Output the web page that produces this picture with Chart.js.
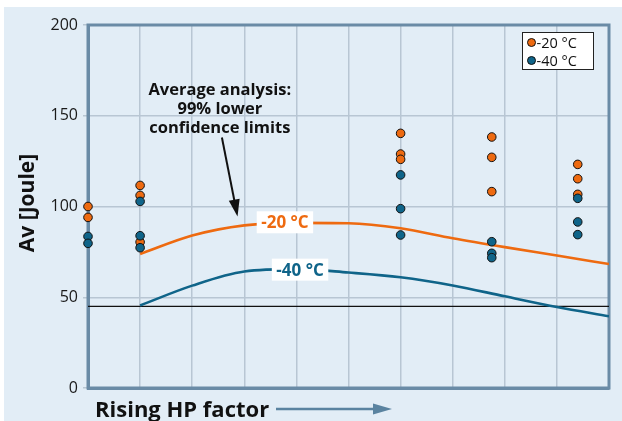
<!DOCTYPE html>
<html>
<head>
<meta charset="utf-8">
<script src="https://cdn.jsdelivr.net/npm/chart.js@4.4.0/dist/chart.umd.min.js"></script>
<style>
  html, body { margin: 0; padding: 0; background: #fff; }
  #wrap { width: 622px; height: 421px; }
</style>
</head>
<body>
<div id="wrap"><canvas id="chart" width="622" height="421"></canvas></div>
<script>
// measured test results, x = position along the HP factor axis
const minus20X = [0, 0, 1, 1, 1, 6, 6, 6, 7.75, 7.75, 7.75, 9.4, 9.4, 9.4];
const minus20Y = [100, 94, 111.6, 106.1, 80.4, 140.3, 128.9, 126, 138.3, 127.1, 108.2, 123.2, 115.3, 106.7];
const minus40X = [0, 0, 1, 1, 1, 6, 6, 6, 7.75, 7.75, 7.75, 9.4, 9.4, 9.4];
const minus40Y = [83.5, 79.7, 102.8, 83.9, 77.3, 117.4, 98.8, 84.3, 80.6, 74.2, 71.8, 104.5, 91.5, 84.5];

// 99% lower confidence limit curves
const curveX = [1, 2, 3, 4, 5, 6, 7, 8, 9, 10];
const limit20 = [73.8, 84, 89.6, 91, 90.8, 88, 82.5, 77.6, 73, 68.3];
const limit40 = [45.5, 56.4, 64.2, 65.5, 63.6, 61, 56.5, 50.5, 44.6, 39.5];

// required minimum
const minLineX = [0, 10];
const minLineY = [45, 45];

const yTicks = [0, 50, 100, 150, 200];
const seriesLabels = ['-20 °C', '-40 °C'];

const ORANGE = '#ee6a10';
const BLUE = '#0f6489';
const AXIS = '#6a8ba6';
const GRID = '#b8c6d3';
const BG = '#e2edf6';
const FONT = '"Open Sans", "Noto Sans", sans-serif';

function pts(xs, ys) {
  return xs.map((x, i) => ({ x: x, y: ys[i] }));
}

const decorPlugin = {
  id: 'decor',
  beforeDraw(chart) {
    const ctx = chart.ctx;
    ctx.save();
    ctx.fillStyle = BG;
    ctx.fillRect(4, 7, chart.width - 4, chart.height - 7);
    ctx.restore();
  },
  beforeDatasetsDraw(chart) {
    const { ctx, chartArea: a } = chart;
    ctx.save();
    ctx.strokeStyle = AXIS;
    ctx.lineWidth = 3;
    ctx.strokeRect(a.left, a.top, a.right - a.left, a.bottom - a.top);
    ctx.restore();
  },
  afterDatasetsDraw(chart) {
    const { ctx, scales: { x, y } } = chart;
    ctx.save();

    // curve labels
    function tag(text, color, dx, dy) {
      const px = x.getPixelForValue(dx), py = y.getPixelForValue(dy);
      ctx.font = 'bold 17px ' + FONT;
      const w = ctx.measureText(text).width + 9;
      ctx.fillStyle = '#fff';
      ctx.fillRect(px - w / 2, py - 11, w, 22);
      ctx.fillStyle = color;
      ctx.textAlign = 'center';
      ctx.textBaseline = 'middle';
      ctx.fillText(text, px, py + 1);
    }
    tag(seriesLabels[0], ORANGE, 3.78, 91.3);
    tag(seriesLabels[1], BLUE, 4.07, 65.2);

    // annotation
    ctx.fillStyle = '#111';
    ctx.font = 'bold 16.5px ' + FONT;
    ctx.textAlign = 'center';
    ctx.textBaseline = 'alphabetic';
    const cx = x.getPixelForValue(2.53);
    ctx.fillText('Average analysis:', cx, 95);
    ctx.fillText('99% lower', cx, 114);
    ctx.fillText('confidence limits', cx, 133);

    // arrow to the curves
    const x0 = x.getPixelForValue(2.57), y0 = y.getPixelForValue(138);
    const x1 = x.getPixelForValue(2.87), y1 = y.getPixelForValue(94.5);
    const ang = Math.atan2(y1 - y0, x1 - x0);
    ctx.strokeStyle = '#111';
    ctx.lineWidth = 2;
    ctx.beginPath();
    ctx.moveTo(x0, y0);
    ctx.lineTo(x1 - 14 * Math.cos(ang), y1 - 14 * Math.sin(ang));
    ctx.stroke();
    ctx.beginPath();
    ctx.moveTo(x1, y1);
    ctx.lineTo(x1 - 17 * Math.cos(ang) + 5.5 * Math.sin(ang), y1 - 17 * Math.sin(ang) - 5.5 * Math.cos(ang));
    ctx.lineTo(x1 - 17 * Math.cos(ang) - 5.5 * Math.sin(ang), y1 - 17 * Math.sin(ang) + 5.5 * Math.cos(ang));
    ctx.closePath();
    ctx.fillStyle = '#111';
    ctx.fill();

    // legend box
    const lx = 522.5, ly = 32.5;
    ctx.fillStyle = '#fff';
    ctx.fillRect(lx, ly, 71, 37);
    ctx.strokeStyle = '#222';
    ctx.lineWidth = 1;
    ctx.strokeRect(lx, ly, 71, 37);
    ctx.font = '14.5px ' + FONT;
    ctx.textAlign = 'left';
    ctx.textBaseline = 'middle';
    [ORANGE, BLUE].forEach((c, i) => {
      const yy = ly + 10 + i * 18;
      ctx.beginPath();
      ctx.arc(lx + 9, yy, 4, 0, Math.PI * 2);
      ctx.fillStyle = c;
      ctx.fill();
      ctx.strokeStyle = '#111';
      ctx.stroke();
      ctx.fillStyle = '#111';
      ctx.fillText(seriesLabels[i], lx + 14, yy + 1);
    });

    // axis titles
    ctx.fillStyle = '#111';
    ctx.font = 'bold 21px ' + FONT;
    ctx.save();
    ctx.translate(28, 203);
    ctx.rotate(-Math.PI / 2);
    ctx.textAlign = 'center';
    ctx.textBaseline = 'middle';
    ctx.fillText('Av [Joule]', 0, 0);
    ctx.restore();

    ctx.font = 'bold 22px ' + FONT;
    ctx.textAlign = 'left';
    ctx.textBaseline = 'alphabetic';
    ctx.fillText('Rising HP factor', 95, 417);

    ctx.strokeStyle = '#5a83a0';
    ctx.fillStyle = '#5a83a0';
    ctx.lineWidth = 2.5;
    ctx.beginPath();
    ctx.moveTo(276, 409);
    ctx.lineTo(376, 409);
    ctx.stroke();
    ctx.beginPath();
    ctx.moveTo(392, 409);
    ctx.lineTo(373, 403.5);
    ctx.lineTo(373, 414.5);
    ctx.closePath();
    ctx.fill();

    ctx.restore();
  }
};

new Chart(document.getElementById('chart'), {
  type: 'scatter',
  data: {
    datasets: [
      {
        label: seriesLabels[1],
        data: pts(minus40X, minus40Y),
        backgroundColor: BLUE,
        borderColor: '#111',
        borderWidth: 1,
        pointRadius: 4.3,
        clip: false,
        order: 0
      },
      {
        label: seriesLabels[0],
        data: pts(minus20X, minus20Y),
        backgroundColor: ORANGE,
        borderColor: '#111',
        borderWidth: 1,
        pointRadius: 4.3,
        clip: false,
        order: 1
      },
      {
        label: 'limit -20',
        data: pts(curveX, limit20),
        showLine: true,
        borderColor: ORANGE,
        borderWidth: 2.6,
        pointRadius: 0,
        cubicInterpolationMode: 'monotone',
        order: 3
      },
      {
        label: 'limit -40',
        data: pts(curveX, limit40),
        showLine: true,
        borderColor: BLUE,
        borderWidth: 2.6,
        pointRadius: 0,
        cubicInterpolationMode: 'monotone',
        order: 3
      },
      {
        label: 'minimum',
        data: pts(minLineX, minLineY),
        showLine: true,
        borderColor: '#111',
        borderWidth: 1.3,
        pointRadius: 0,
        order: 4
      }
    ]
  },
  options: {
    responsive: false,
    animation: false,
    events: [],
    layout: { padding: { left: 4, top: 25, right: 13, bottom: 0 } },
    plugins: {
      legend: { display: false },
      tooltip: { enabled: false }
    },
    scales: {
      x: {
        type: 'linear',
        min: 0,
        max: 10,
        ticks: { stepSize: 1, display: false },
        grid: { color: GRID, lineWidth: 1.5, drawTicks: false },
        border: { color: AXIS, width: 3 },
        afterFit(scale) { scale.height = 33; }
      },
      y: {
        min: 0,
        max: 200,
        afterBuildTicks(scale) { scale.ticks = yTicks.map(v => ({ value: v })); },
        ticks: { color: '#1a1a1a', font: { family: FONT, size: 16 }, padding: 5 },
        grid: { color: GRID, lineWidth: 1.5, tickLength: 5 },
        border: { color: AXIS, width: 3 },
        afterFit(scale) { scale.width = 84; }
      }
    }
  },
  plugins: [decorPlugin]
});
</script>
</body>
</html>
